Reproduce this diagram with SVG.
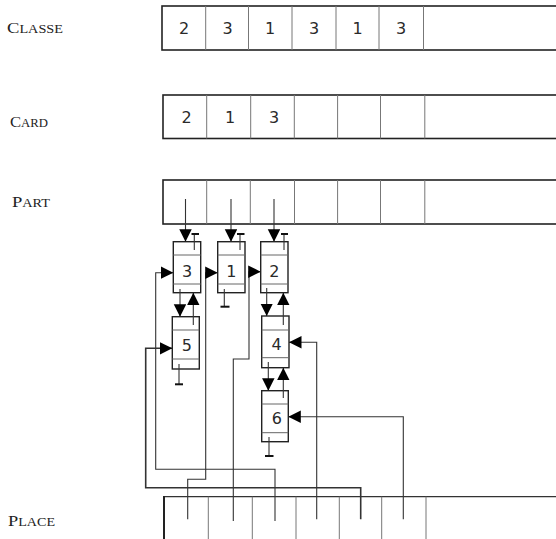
<svg xmlns="http://www.w3.org/2000/svg" width="556" height="539" viewBox="0 0 556 539">
<style>
.lbl{font-family:"Liberation Serif","Times New Roman",serif;fill:#222}
.big{font-size:15px}
.sm{font-size:11.5px}
.dg{font-family:"DejaVu Sans","Liberation Sans",sans-serif;font-size:16px;fill:#2a2a2a;text-anchor:middle}
.box{fill:none;stroke:#222;stroke-width:1.6}
.div{stroke:#777;stroke-width:1}
.nbox{fill:#fff;stroke:#222;stroke-width:1.4}
.ndiv{stroke:#666;stroke-width:1}
.w{fill:none;stroke:#333;stroke-width:1.1}
.nil{stroke:#111;stroke-width:2}
</style>
<defs>
<marker id="ah" markerUnits="userSpaceOnUse" markerWidth="13" markerHeight="13" refX="12.5" refY="6.25" orient="auto">
<path d="M0,0 L12.5,6.25 L0,12.5 z" fill="#000"/>
</marker>
</defs>
<rect width="556" height="539" fill="#fff"/>

<g id="classe">
<text class="lbl" x="7" y="33" textLength="56" lengthAdjust="spacingAndGlyphs"><tspan class="big">C</tspan><tspan class="sm">LASSE</tspan></text>
<rect class="box" x="162" y="6" width="400" height="44"/>
<g class="div"><line x1="205.7" y1="6" x2="205.7" y2="50"/><line x1="248.5" y1="6" x2="248.5" y2="50"/><line x1="292" y1="6" x2="292" y2="50"/><line x1="336" y1="6" x2="336" y2="50"/><line x1="379" y1="6" x2="379" y2="50"/><line x1="423.5" y1="6" x2="423.5" y2="50"/></g>
<text class="dg" x="184" y="33.5">2</text><text class="dg" x="227.5" y="33.5">3</text><text class="dg" x="270" y="33.5">1</text><text class="dg" x="314" y="33.5">3</text><text class="dg" x="357.5" y="33.5">1</text><text class="dg" x="401" y="33.5">3</text>
</g>

<g id="card">
<text class="lbl" x="10" y="127" textLength="38" lengthAdjust="spacingAndGlyphs"><tspan class="big">C</tspan><tspan class="sm">ARD</tspan></text>
<rect class="box" x="163" y="95" width="400" height="43.5"/>
<g class="div"><line x1="206.7" y1="95" x2="206.7" y2="138.5"/><line x1="250.7" y1="95" x2="250.7" y2="138.5"/><line x1="294.3" y1="95" x2="294.3" y2="138.5"/><line x1="337.6" y1="95" x2="337.6" y2="138.5"/><line x1="380.5" y1="95" x2="380.5" y2="138.5"/><line x1="424.8" y1="95" x2="424.8" y2="138.5"/></g>
<text class="dg" x="186.5" y="123.3">2</text><text class="dg" x="230" y="123.3">1</text><text class="dg" x="274" y="123.3">3</text>
</g>

<g id="part">
<text class="lbl" x="12" y="207" textLength="38" lengthAdjust="spacingAndGlyphs"><tspan class="big">P</tspan><tspan class="sm">ART</tspan></text>
<rect class="box" x="163" y="180" width="400" height="44"/>
<g class="div"><line x1="206.7" y1="180" x2="206.7" y2="224"/><line x1="250.3" y1="180" x2="250.3" y2="224"/><line x1="294.5" y1="180" x2="294.5" y2="224"/><line x1="337.6" y1="180" x2="337.6" y2="224"/><line x1="380.5" y1="180" x2="380.5" y2="224"/><line x1="424.8" y1="180" x2="424.8" y2="224"/></g>
</g>

<g id="place">
<text class="lbl" x="8" y="526" textLength="47" lengthAdjust="spacingAndGlyphs"><tspan class="big">P</tspan><tspan class="sm">LACE</tspan></text>
<line x1="164" y1="496.7" x2="556" y2="496.7" stroke="#333" stroke-width="1.2"/>
<line x1="164" y1="496" x2="164" y2="539" stroke="#222" stroke-width="2"/>
<g class="div"><line x1="208.3" y1="496.7" x2="208.3" y2="539"/><line x1="252.3" y1="496.7" x2="252.3" y2="539"/><line x1="296" y1="496.7" x2="296" y2="539"/><line x1="339.3" y1="496.7" x2="339.3" y2="539"/><line x1="381.7" y1="496.7" x2="381.7" y2="539"/><line x1="426" y1="496.7" x2="426" y2="539"/></g>
</g>

<g id="node-3">
<rect class="nbox" x="173.3" y="241.7" width="27.4" height="51"/>
<line class="ndiv" x1="173.3" y1="255" x2="200.7" y2="255"/><line class="ndiv" x1="173.3" y1="284" x2="200.7" y2="284"/>
<text class="dg" x="187" y="277">3</text>
</g>
<g id="node-1">
<rect class="nbox" x="217.7" y="241.7" width="27.3" height="51"/>
<line class="ndiv" x1="217.7" y1="255" x2="245" y2="255"/><line class="ndiv" x1="217.7" y1="284" x2="245" y2="284"/>
<text class="dg" x="231.3" y="277">1</text>
</g>
<g id="node-2">
<rect class="nbox" x="260.7" y="241.7" width="27.3" height="51"/>
<line class="ndiv" x1="260.7" y1="255" x2="288" y2="255"/><line class="ndiv" x1="260.7" y1="284" x2="288" y2="284"/>
<text class="dg" x="274.3" y="277">2</text>
</g>
<g id="node-5">
<rect class="nbox" x="172.3" y="316.7" width="27" height="52.3"/>
<line class="ndiv" x1="172.3" y1="330" x2="199.3" y2="330"/><line class="ndiv" x1="172.3" y1="359" x2="199.3" y2="359"/>
<text class="dg" x="186.8" y="351">5</text>
</g>
<g id="node-4">
<rect class="nbox" x="261.7" y="316" width="27.3" height="51.7"/>
<line class="ndiv" x1="261.7" y1="330" x2="289" y2="330"/><line class="ndiv" x1="261.7" y1="357.7" x2="289" y2="357.7"/>
<text class="dg" x="276.5" y="350">4</text>
</g>
<g id="node-6">
<rect class="nbox" x="261.7" y="390.7" width="26.6" height="51"/>
<line class="ndiv" x1="261.7" y1="404" x2="288.3" y2="404"/><line class="ndiv" x1="261.7" y1="432.7" x2="288.3" y2="432.7"/>
<text class="dg" x="276.8" y="424">6</text>
</g>

<g id="connectors">
<g class="w" marker-end="url(#ah)">
<path d="M185.5,199 V241.7"/>
<path d="M231,199 V241.7"/>
<path d="M274,199 V241.7"/>
<path d="M180,289 V316.7"/>
<path d="M193.3,325 V292.7"/>
<path d="M266.7,288 V316"/>
<path d="M283.3,325 V292.7"/>
<path d="M268.3,362 V390.7"/>
<path d="M283.3,398 V367.7"/>
<path d="M275,521 V469.3 H155.7 V272.7 H173.3"/>
<path d="M187.7,519.3 V479.3 H205.7 V272.7 H217.7"/>
<path d="M233.3,521 V359 H249 V271.7 H260.7"/>
<path d="M360.7,519.3 V487.7 H145.7 V348.3 H172.3" stroke-width="1.6"/>
<path d="M316.7,519.3 V342.3 H289"/>
<path d="M403.3,519.3 V416.7 H288.3"/>
</g>
<g class="w">
<path d="M194.3,250 V233.5"/><path d="M240,250 V233.5"/><path d="M284,250 V233.5"/>
<path d="M224.3,289 V306.7"/><path d="M179,364 V384.3"/><path d="M269,437 V456"/>
</g>
<g class="nil">
<line x1="191.5" y1="234" x2="199" y2="234"/><line x1="237" y1="234" x2="244.5" y2="234"/><line x1="281" y1="234" x2="288" y2="234"/>
<line x1="220.5" y1="306.7" x2="229.5" y2="306.7"/><line x1="175" y1="384.3" x2="183" y2="384.3"/><line x1="265" y1="456" x2="273.5" y2="456"/>
</g>
</g>
</svg>
